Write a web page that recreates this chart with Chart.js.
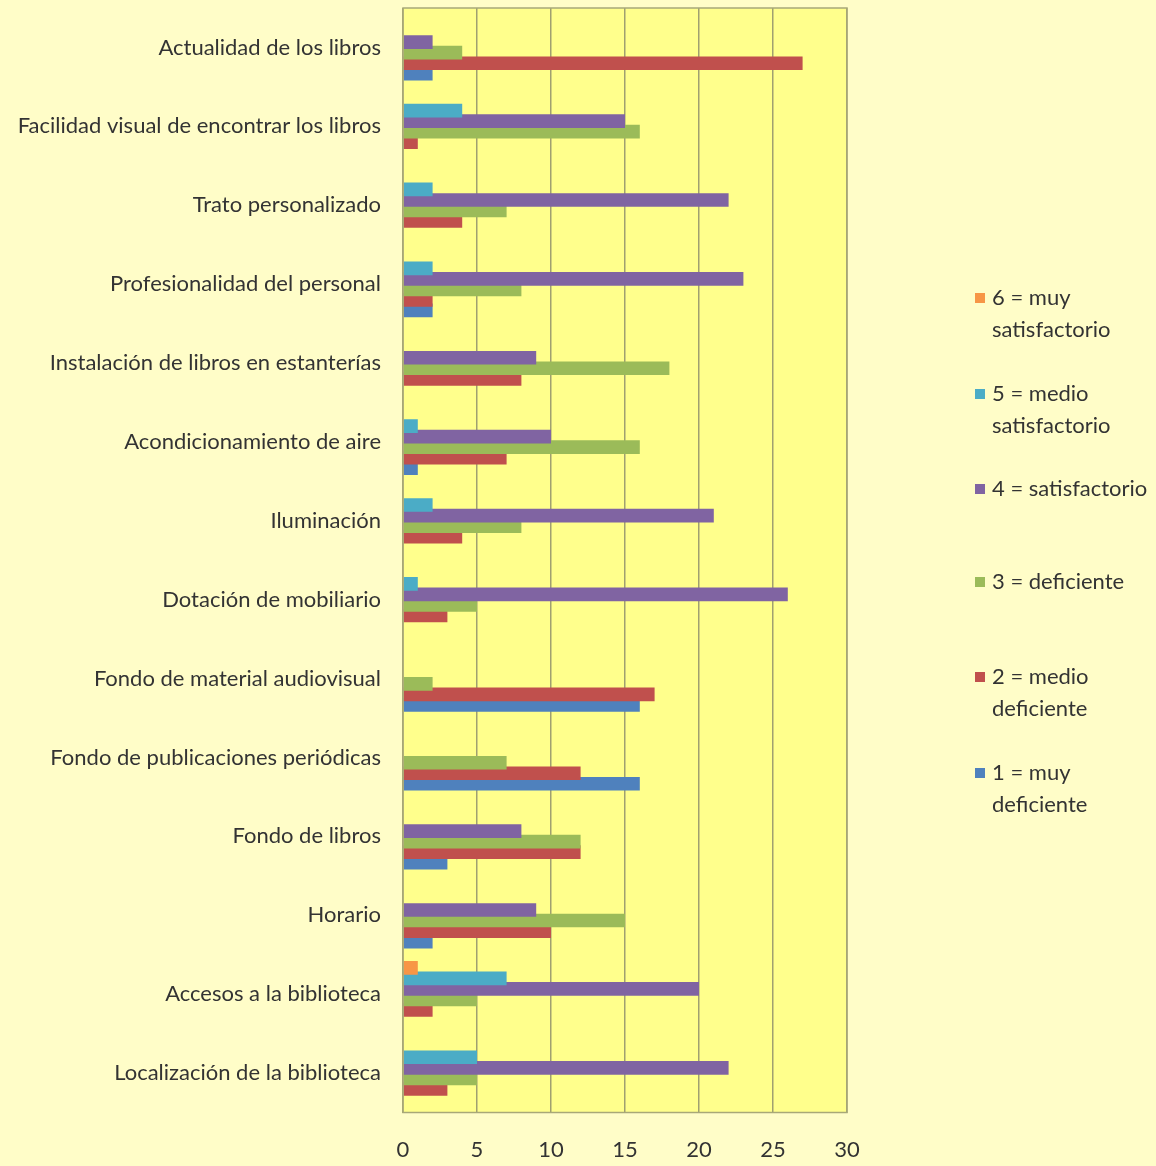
<!DOCTYPE html>
<html>
<head>
<meta charset="utf-8">
<script src="https://cdn.jsdelivr.net/npm/chart.js@4/dist/chart.umd.min.js"></script>
<style>
  html, body { margin: 0; padding: 0; background: #FFFDC8; }
  canvas { display: block; }
</style>
</head>
<body>
<canvas id="chart" width="1156" height="1166"></canvas>
<script>
// categories, top to bottom as in the picture
const categories = [
  'Actualidad de los libros',
  'Facilidad visual de encontrar los libros',
  'Trato personalizado',
  'Profesionalidad del personal',
  'Instalación de libros en estanterías',
  'Acondicionamiento de aire',
  'Iluminación',
  'Dotación de mobiliario',
  'Fondo de material audiovisual',
  'Fondo de publicaciones periódicas',
  'Fondo de libros',
  'Horario',
  'Accesos a la biblioteca',
  'Localización de la biblioteca'
];

const muySatisfactorio   = [0, 0, 0, 0, 0, 0, 0, 0, 0, 0, 0, 0, 1, 0];
const medioSatisfactorio = [0, 4, 2, 2, 0, 1, 2, 1, 0, 0, 0, 0, 7, 5];
const satisfactorio      = [2, 15, 22, 23, 9, 10, 21, 26, 0, 0, 8, 9, 20, 22];
const deficiente         = [4, 16, 7, 8, 18, 16, 8, 5, 2, 7, 12, 15, 5, 5];
const medioDeficiente    = [27, 1, 4, 2, 8, 7, 4, 3, 17, 12, 12, 10, 2, 3];
const muyDeficiente      = [2, 0, 0, 2, 0, 1, 0, 0, 16, 16, 3, 2, 0, 0];

const seriesLabels = [
  ['6 = muy', 'satisfactorio'],
  ['5 = medio', 'satisfactorio'],
  ['4 = satisfactorio'],
  ['3 = deficiente'],
  ['2 = medio', 'deficiente'],
  ['1 = muy', 'deficiente']
];
const seriesColors = ['#F79646', '#4BACC6', '#8064A2', '#9BBB59', '#C0504D', '#4F81BD'];
const seriesData = [muySatisfactorio, medioSatisfactorio, satisfactorio, deficiente, medioDeficiente, muyDeficiente];

const xTicks = [0, 5, 10, 15, 20, 25, 30];

const FONT = 'Lato, "Open Sans", sans-serif';
const TEXT = '#333333';

const plotFill = {
  id: 'plotFill',
  beforeDraw(chart) {
    const { ctx, chartArea: a } = chart;
    ctx.save();
    ctx.fillStyle = '#FFFF8C';
    ctx.fillRect(a.left, a.top, a.right - a.left, a.bottom - a.top);
    ctx.restore();
  },
  afterDraw(chart) {
    const { ctx, chartArea: a } = chart;
    ctx.save();
    ctx.strokeStyle = '#A8A878';
    ctx.lineWidth = 1.5;
    ctx.strokeRect(a.left, a.top, a.right - a.left, a.bottom - a.top);
    ctx.restore();
  }
};

// legend on the right, with wrapped labels
const sideLegend = {
  id: 'sideLegend',
  afterDraw(chart) {
    const ctx = chart.ctx;
    const rows = [298, 394, 489, 582, 677, 773];
    ctx.save();
    ctx.font = '22px ' + FONT;
    ctx.textBaseline = 'middle';
    chart.data.datasets.forEach((ds, i) => {
      const y = rows[i];
      ctx.fillStyle = ds.backgroundColor;
      ctx.fillRect(975, y - 5, 10, 10);
      ctx.fillStyle = TEXT;
      seriesLabels[i].forEach((line, j) => {
        ctx.fillText(line, 992, y + j * 32);
      });
    });
    ctx.restore();
  }
};

new Chart(document.getElementById('chart'), {
  type: 'bar',
  data: {
    labels: categories,
    datasets: seriesData.map((d, i) => ({
      label: seriesLabels[i].join(' '),
      data: d,
      backgroundColor: seriesColors[i],
      borderWidth: 0,
      categoryPercentage: 0.8,
      barPercentage: 1.3
    }))
  },
  options: {
    indexAxis: 'y',
    responsive: false,
    animation: false,
    layout: { padding: { top: 8, right: 309, left: 0, bottom: 0 } },
    plugins: {
      legend: { display: false },
      tooltip: { enabled: false }
    },
    scales: {
      x: {
        min: 0,
        max: 30,
        afterBuildTicks: s => { s.ticks = xTicks.map(v => ({ value: v })); },
        afterFit: s => { s.height = 53.5; s.paddingLeft = 0; s.paddingRight = 0; },
        grid: { color: '#A0A070', lineWidth: 1.5, drawTicks: false },
        border: { display: false },
        ticks: {
          padding: 24,
          color: TEXT,
          font: { family: FONT, size: 22 }
        }
      },
      y: {
        afterFit: s => { s.width = 403; s.paddingTop = 0; s.paddingBottom = 0; },
        grid: { display: false, drawTicks: false },
        border: { display: false },
        ticks: {
          padding: 22,
          color: TEXT,
          font: { family: FONT, size: 22 }
        }
      }
    }
  },
  plugins: [plotFill, sideLegend]
});
</script>
</body>
</html>
